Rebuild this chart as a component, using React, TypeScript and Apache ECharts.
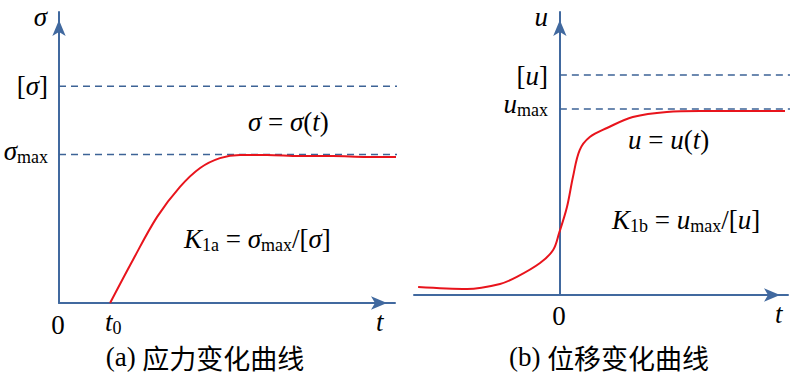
import React, { useEffect, useRef } from "react";
import * as echarts from "echarts";

// Panel (a): stress curve σ(t)
const stressT = [1.52, 2.2, 2.92, 3.6, 4.2, 4.79, 5.39, 6.19, 7.17, 8.15, 9.17, 10.24];
const stressV = [0, 1.48, 2.96, 3.99, 4.64, 4.98, 5.09, 5.09, 5.05, 5.05, 5.02, 5.02];
const stressAllow = 7.45; // [σ]
const stressMax = 5.1; // σmax
const stressLineEnd = 10.24;

// Panel (b): displacement curve u(t)
const dispT = [-3.79, -2.48, -1.6, -1.15, -0.53, -0.18, -0.02, 0.19, 0.35, 0.53, 0.8, 1.26, 1.95, 2.86, 3.75, 4.63, 6.02];
const dispV = [0.28, 0.21, 0.39, 0.64, 1.13, 1.59, 2.19, 3.11, 4.17, 5.12, 5.58, 5.9, 6.29, 6.47, 6.5, 6.5, 6.5];
const dispAllow = 7.77; // [u]
const dispMax = 6.57; // umax
const dispLineEnd = 6.2;

const SERIF = "Liberation Serif";
const CJK = "Noto Sans CJK SC";
const AXIS = "#41699f";
const DASH = "#3d6396";
const RED = "#e8141c";

const rich = {
  i: { fontFamily: SERIF, fontStyle: "italic", fontSize: 27, lineHeight: 30, verticalAlign: "middle" },
  r: { fontFamily: SERIF, fontStyle: "normal", fontSize: 27, lineHeight: 30, verticalAlign: "middle" },
  s: { fontFamily: SERIF, fontStyle: "normal", fontSize: 18, lineHeight: 14, verticalAlign: "bottom" },
  c: { fontFamily: CJK, fontStyle: "normal", fontSize: 27, lineHeight: 30, verticalAlign: "middle" },
};

function txt(text: string, x: number, y: number, align: string) {
  return {
    type: "text",
    x,
    y,
    style: {
      text,
      rich,
      fontFamily: SERIF,
      fontSize: 27,
      fill: "#000",
      align,
      textAlign: align,
      verticalAlign: "middle",
      textVerticalAlign: "middle",
    },
  };
}

function axisLine() {
  return {
    onZero: true,
    symbol: ["none", "arrow"],
    symbolSize: [10, 16],
    symbolOffset: [0, -8],
    lineStyle: { color: AXIS, width: 2 },
  };
}

function axisBase(min: number, max: number, gridIndex: number) {
  return {
    type: "value",
    gridIndex,
    min,
    max,
    axisLine: axisLine(),
    axisTick: { show: false },
    axisLabel: { show: false },
    splitLine: { show: false },
  };
}

function dashed(x0: number, x1: number, y: number, idx: number) {
  return {
    type: "line",
    xAxisIndex: idx,
    yAxisIndex: idx,
    data: [
      [x0, y],
      [x1, y],
    ],
    showSymbol: false,
    clip: false,
    silent: true,
    lineStyle: { color: DASH, width: 1.5, type: [7, 5] },
    z: 1,
  };
}

export default function App() {
  const ref = useRef<HTMLDivElement>(null);
  useEffect(() => {
    if (!ref.current) return;
    const chart = echarts.init(ref.current, undefined, { renderer: "svg" });
    chart.setOption({
      animation: false,
      backgroundColor: "#fff",
      grid: [
        { left: 59, top: 12, width: 336, height: 291 },
        { left: 414, top: 12, width: 374, height: 283 },
      ],
      xAxis: [axisBase(0, 10, 0), axisBase(-3.9, 6.1, 1)],
      yAxis: [axisBase(0, 10, 0), axisBase(0, 10, 1)],
      series: [
        dashed(0, stressLineEnd, stressAllow, 0),
        dashed(0, stressLineEnd, stressMax, 0),
        {
          type: "line",
          xAxisIndex: 0,
          yAxisIndex: 0,
          data: stressT.map((t, i) => [t, stressV[i]]),
          smooth: 0.35,
          showSymbol: false,
          clip: false,
          lineStyle: { color: RED, width: 2 },
          z: 3,
        },
        dashed(0, dispLineEnd, dispAllow, 1),
        dashed(0, dispLineEnd, dispMax, 1),
        {
          type: "line",
          xAxisIndex: 1,
          yAxisIndex: 1,
          data: dispT.map((t, i) => [t, dispV[i]]),
          smooth: 0.35,
          showSymbol: false,
          clip: false,
          lineStyle: { color: RED, width: 2 },
          z: 3,
        },
      ],
      graphic: [
        // panel a
        txt("{i|σ}", 47, 17, "right"),
        txt("{r|[}{i|σ}{r|]}", 48, 86, "right"),
        txt("{i|σ}{s|max}", 48, 151, "right"),
        txt("{i|σ}{r| = }{i|σ}{r|(}{i|t}{r|)}", 248, 122, "left"),
        txt("{i|K}{s|1a}{r| = }{i|σ}{s|max}{r|/[}{i|σ}{r|]}", 184, 239, "left"),
        txt("{r|0}", 58, 325, "center"),
        txt("{i|t}{s|0}", 105, 322, "left"),
        txt("{i|t}", 376, 322, "left"),
        txt("{r|(a) }{c|应力变化曲线}", 205, 357, "center"),
        // panel b
        txt("{i|u}", 548, 17, "right"),
        txt("{r|[}{i|u}{r|]}", 548, 76, "right"),
        txt("{i|u}{s|max}", 548, 104, "right"),
        txt("{i|u}{r| = }{i|u}{r|(}{i|t}{r|)}", 628, 140, "left"),
        txt("{i|K}{s|1b}{r| = }{i|u}{s|max}{r|/[}{i|u}{r|]}", 612, 220, "left"),
        txt("{r|0}", 559, 316, "center"),
        txt("{i|t}", 775, 314, "left"),
        txt("{r|(b) }{c|位移变化曲线}", 609, 357, "center"),
      ],
    });
    return () => chart.dispose();
  }, []);
  return (
    <div
      ref={ref}
      style={{ position: "fixed", left: 0, top: 0, width: 800, height: 375 }}
    />
  );
}
